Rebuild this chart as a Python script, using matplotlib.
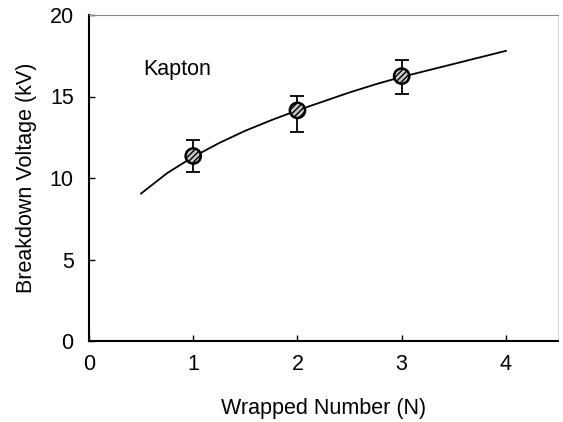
import matplotlib.pyplot as plt

# measured breakdown voltage vs. wrapped number
wraps = [1, 2, 3]
voltage = [11.35, 14.15, 16.25]
err_low = [1.0, 1.3, 1.1]
err_high = [1.0, 0.9, 1.0]

# trend line
fit_n = [0.5, 0.75, 1.0, 1.25, 1.5, 1.75, 2.0, 2.25, 2.5, 2.75, 3.0, 3.25, 3.5, 3.75, 4.0]
fit_v = [9.05, 10.3, 11.3, 12.15, 12.9, 13.55, 14.15, 14.7, 15.25, 15.75, 16.2, 16.6, 17.0, 17.4, 17.8]

plt.rcParams['font.family'] = ['Liberation Sans', 'DejaVu Sans']
fs = 15.5

fig = plt.figure(figsize=(5.63, 4.22), dpi=100)
ax = fig.add_axes([89 / 563, 81 / 422, 469 / 563, 326 / 422])

ax.plot(fit_n, fit_v, color='black', lw=1.3, zorder=2)
ax.errorbar(wraps, voltage, yerr=[err_low, err_high], fmt='none',
            ecolor='black', elinewidth=1.3, capsize=5, capthick=1.3, zorder=3)
ax.scatter(wraps, voltage, s=120, facecolor='#c8c8c8', edgecolor='black',
           linewidths=1.8, hatch='//////', zorder=4)

ax.text(0.52, 16.3, 'Kapton', fontsize=fs)

ax.set_xlim(0, 4.5)
ax.set_ylim(0, 20)
ax.set_xticks([0, 1, 2, 3, 4])
ax.set_yticks([0, 5, 10, 15, 20])
ax.tick_params(direction='in', length=4, width=1, labelsize=fs)
ax.tick_params(axis='x', pad=9)
ax.tick_params(axis='y', pad=11)
ax.set_xlabel('Wrapped Number (N)', fontsize=fs)
ax.set_ylabel('Breakdown Voltage (kV)', fontsize=fs)
ax.xaxis.set_label_coords(0.5, -0.175)
ax.yaxis.set_label_coords(-0.11, 0.5)

ax.spines['left'].set_linewidth(1.5)
ax.spines['bottom'].set_linewidth(1.5)
ax.spines['top'].set_color('#888888')
ax.spines['top'].set_linewidth(0.8)
ax.spines['right'].set_color('#cccccc')
ax.spines['right'].set_linewidth(0.6)

plt.savefig('out.png', dpi=100)
